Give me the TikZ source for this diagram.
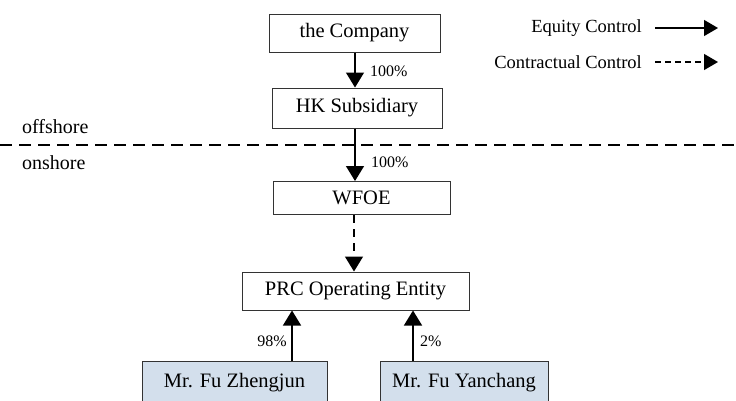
\documentclass[tikz,border=0pt]{standalone}
\usepackage{fontspec}
\setmainfont{Liberation Serif}
\usetikzlibrary{arrows.meta}
\definecolor{boxblue}{RGB}{211,223,236}
\begin{document}
\begin{tikzpicture}[x=1pt,y=-1pt,
  ent/.style={draw=black!80,line width=1pt,minimum height=#1,inner sep=0pt,font=\fontsize{20.5}{24}\selectfont},
  ent/.default=38pt,
  pct/.style={font=\fontsize{16}{19}\selectfont,inner sep=0pt},
  lgd/.style={font=\fontsize{18.5}{22}\selectfont,inner sep=0pt},
  eq/.style={line width=1.4pt,-{Triangle[length=15pt,width=18pt]}},
  ct/.style={eq,dash pattern=on 8pt off 6pt},
  ]
\useasboundingbox (0,0) rectangle (736,400);
% entities
\node[ent=38pt,minimum width=171pt] (co) at (354.5,33) {the Company};
\node[ent=40pt,minimum width=170pt] (hk) at (357,108) {HK Subsidiary};
\node[ent=33pt,minimum width=177pt] (wf) at (361.5,198) {WFOE};
\node[ent=38pt,minimum width=227pt] (prc) at (355.5,291) {PRC Operating Entity};
\node[ent=42pt,minimum width=185pt,fill=boxblue,anchor=north] (zj) at (234.5,361) {Mr. Fu Zhengjun};
\node[ent=42pt,minimum width=168pt,fill=boxblue,anchor=north] (yc) at (464,361) {Mr. Fu Yanchang};
% connectors
\draw[eq] (co.south -| 355,0) -- (hk.north -| 355,0);
\draw[eq] (hk.south -| 355,0) -- (wf.north -| 355,0);
\draw[ct] (wf.south -| 354,0) -- (prc.north -| 354,0);
\draw[eq] (zj.north -| 292,0) -- (prc.south -| 292,0);
\draw[eq] (yc.north -| 413,0) -- (prc.south -| 413,0);
% percentages
\node[pct,anchor=west] (p1) at (370,71) {100\%};
\node[pct,anchor=west] (p2) at (371,162) {100\%};
\node[pct,anchor=east] (p3) at (287,341) {98\%};
\node[pct,anchor=west] (p4) at (420,341) {2\%};
% offshore / onshore
\coordinate (dl) at (0,145);
\coordinate (dr) at (736,145);
\draw[line width=1.3pt,dash pattern=on 12pt off 7pt] (dl) -- (dr);
\node[font=\fontsize{20}{24}\selectfont,inner sep=0pt,anchor=west] (off) at (22,127) {offshore};
\node[font=\fontsize{20}{24}\selectfont,inner sep=0pt,anchor=west] (on) at (22,163) {onshore};
% legend
\node[lgd,anchor=east] (l1) at (642,28) {Equity Control};
\node[lgd,anchor=east] (l2) at (642,62) {Contractual Control};
\coordinate (a1) at (718,28);
\coordinate (a2) at (718,62);
\draw[line width=1.4pt,-{Triangle[length=14pt,width=16pt]}] ([xshift=13pt]l1.east) -- (a1);
\draw[line width=1.4pt,dash pattern=on 6pt off 4pt,-{Triangle[length=14pt,width=16pt]}] ([xshift=13pt]l2.east) -- (a2);
\end{tikzpicture}
\end{document}
